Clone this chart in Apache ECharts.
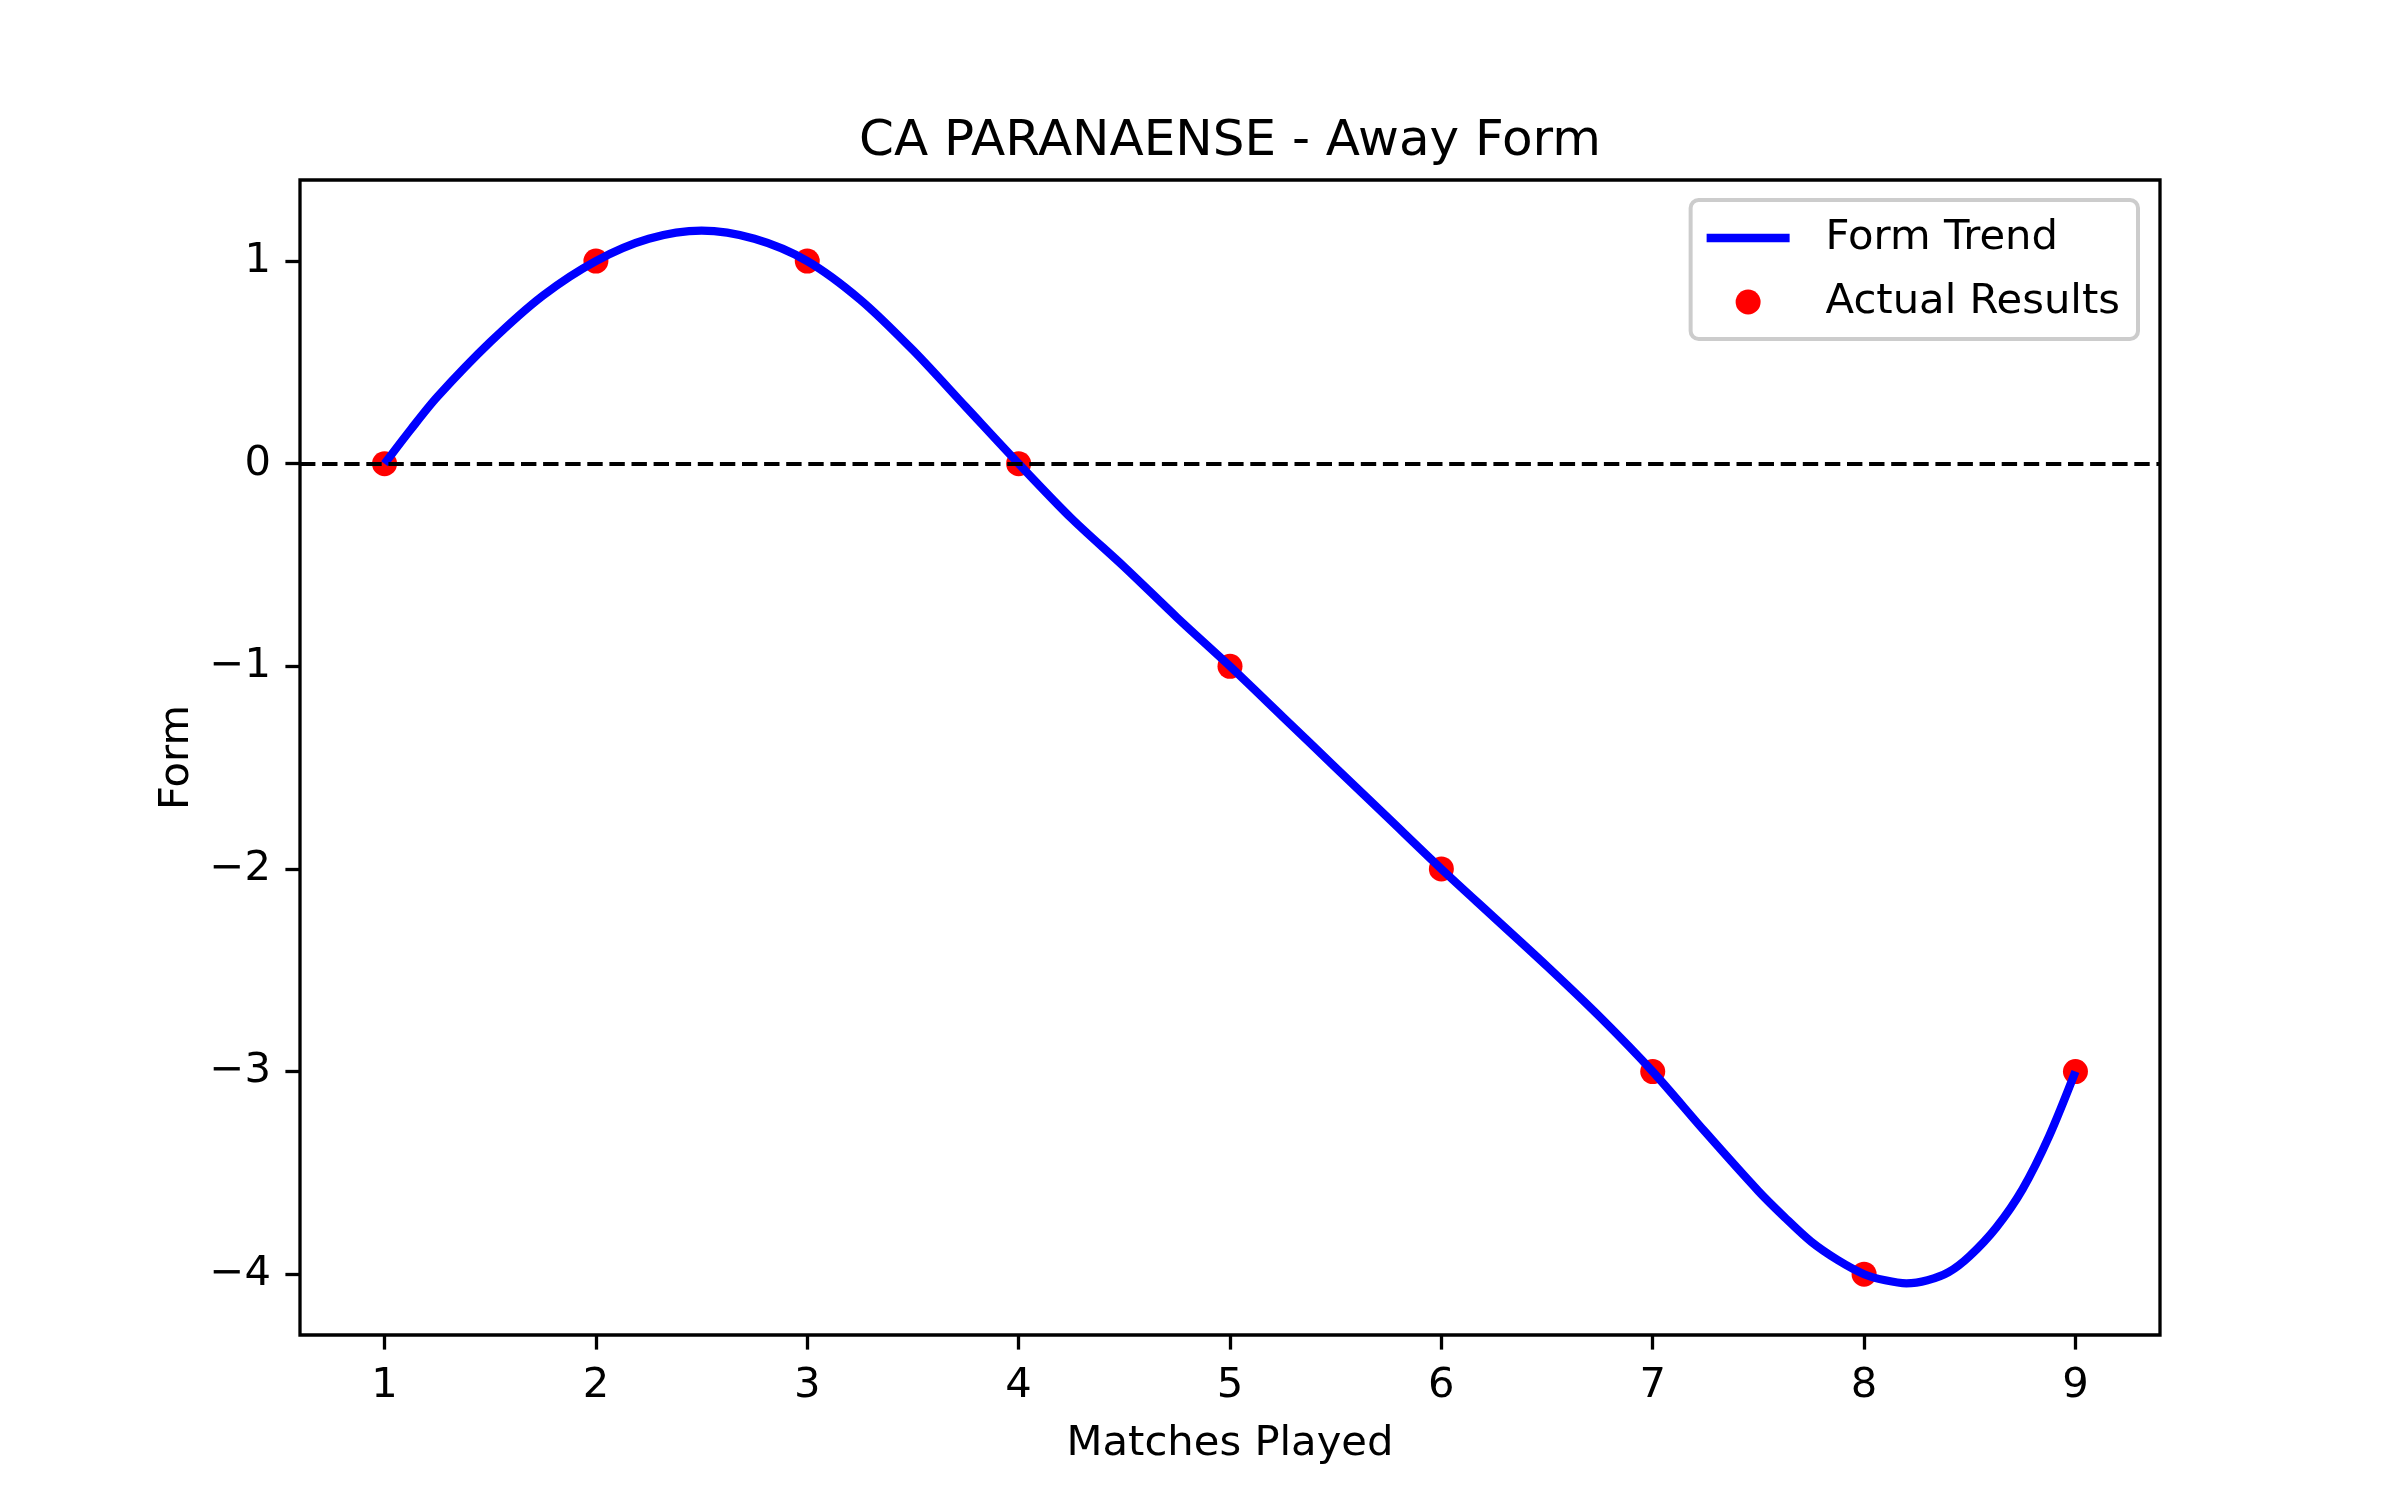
<!DOCTYPE html>
<html>
<head>
<meta charset="utf-8">
<script src="https://cdn.jsdelivr.net/npm/echarts@6/dist/echarts.min.js"></script>
<style>
  html, body { margin: 0; padding: 0; background: #fff; }
  #chart { width: 2400px; height: 1500px; }
</style>
</head>
<body>
<div id="chart"></div>
<script>
// match results (x = match number, y = form)
const matches = [1, 2, 3, 4, 5, 6, 7, 8, 9];
const results = [0, 1, 1, 0, -1, -2, -3, -4, -3];

// smoothed trend (denser where it bends hard)
const trendX = [1, 1.125, 1.25, 1.5, 1.75, 2, 2.25, 2.5, 2.75, 3, 3.25, 3.5, 3.75, 4, 4.25, 4.5, 4.75,
  5, 5.25, 5.5, 5.75, 6, 6.25, 6.5, 6.75, 7, 7.25, 7.5, 7.625, 7.75, 7.875, 8, 8.1, 8.2, 8.3,
  8.4, 8.5, 8.625, 8.75, 8.875, 9];
const trendY = [0, 0.17, 0.33, 0.60, 0.83, 1, 1.11, 1.15, 1.11, 1, 0.81, 0.56, 0.28, 0, -0.27, -0.51, -0.76,
  -1, -1.25, -1.50, -1.75, -2, -2.24, -2.48, -2.73, -3, -3.30, -3.59, -3.72, -3.84, -3.93, -4, -4.03, -4.045, -4.03,
  -3.99, -3.91, -3.77, -3.58, -3.32, -3];

const xTicks = [1, 2, 3, 4, 5, 6, 7, 8, 9];
const yTicks = [-4, -3, -2, -1, 0, 1];
const zeroLine = 0;

const font = "DejaVu Sans";
const minus = (v) => String(v).replace("-", "\u2212");

const chart = echarts.init(document.getElementById("chart"));

const option = {
  animation: false,
  backgroundColor: "#fff",
  title: {
    text: "CA PARANAENSE - Away Form",
    left: 1230,
    textAlign: "center",
    top: 117,
    padding: 0,
    textStyle: { fontFamily: font, fontSize: 50, fontWeight: "normal", color: "#000" }
  },
  legend: {
    orient: "vertical",
    right: 262,
    top: 200,
    padding: [17, 18, 16, 16],
    itemWidth: 83,
    itemHeight: 25,
    itemGap: 22,
    borderColor: "#cccccc",
    borderWidth: 4,
    borderRadius: 8,
    backgroundColor: "rgba(255,255,255,0.8)",
    textStyle: { fontFamily: font, fontSize: 41.7, color: "#000", padding: [0, 0, 0, 31] },
    data: [
      { name: "Form Trend", icon: "path://M0,0H100V10H0Z", itemStyle: { color: "#0000ff" } },
      { name: "Actual Results", icon: "circle", itemStyle: { color: "#ff0000", opacity: 1 } }
    ]
  },
  grid: {
    left: 300,
    top: 180,
    width: 1860,
    height: 1155,
    show: true,
    borderColor: "#000",
    borderWidth: 3.3,
    backgroundColor: "transparent"
  },
  xAxis: {
    type: "value",
    min: 0.6,
    max: 9.4,
    name: "Matches Played",
    nameLocation: "middle",
    nameGap: 88,
    nameTextStyle: { fontFamily: font, fontSize: 41.7, color: "#000" },
    axisLine: { show: false, onZero: false },
    splitLine: { show: false },
    axisTick: {
      show: true,
      customValues: xTicks,
      length: 14.6,
      lineStyle: { color: "#000", width: 3.3 }
    },
    axisLabel: {
      customValues: xTicks,
      margin: 30,
      fontFamily: font,
      fontSize: 41.7,
      color: "#000"
    }
  },
  yAxis: {
    type: "value",
    min: -4.30,
    max: 1.40,
    name: "Form",
    nameLocation: "middle",
    nameGap: 102,
    nameTextStyle: { fontFamily: font, fontSize: 41.7, color: "#000" },
    axisLine: { show: false, onZero: false },
    splitLine: { show: false },
    axisTick: {
      show: true,
      customValues: yTicks,
      length: 14.6,
      lineStyle: { color: "#000", width: 3.3 }
    },
    axisLabel: {
      customValues: yTicks,
      margin: 29,
      fontFamily: font,
      fontSize: 41.7,
      color: "#000",
      formatter: minus
    }
  },
  series: [
    {
      name: "Actual Results",
      type: "scatter",
      z: 2,
      symbolSize: 25,
      itemStyle: { color: "#ff0000", opacity: 1 },
      data: matches.map((m, i) => [m, results[i]])
    },
    {
      name: "Form Trend",
      type: "line",
      z: 3,
      smooth: 0.3,
      symbol: "none",
      lineStyle: { color: "#0000ff", width: 8.3 },
      itemStyle: { color: "#0000ff" },
      data: trendX.map((x, i) => [x, trendY[i]]),
      markLine: {
        silent: true,
        symbol: ["none", "none"],
        label: { show: false },
        lineStyle: { color: "#000", width: 4.2, type: [15.4, 6.7] },
        data: [{ yAxis: zeroLine }]
      }
    }
  ]
};

chart.setOption(option);
window.addEventListener("resize", chart.resize);
</script>
</body>
</html>
